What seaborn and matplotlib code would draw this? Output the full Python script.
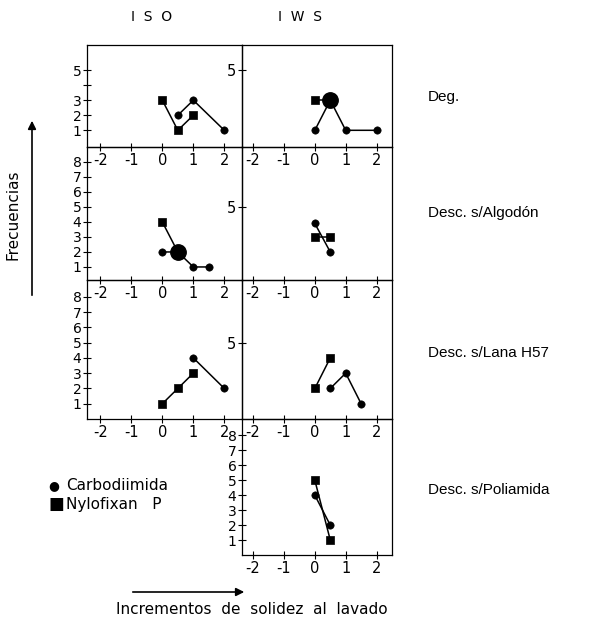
import seaborn as sns
import pandas as pd
import numpy as np
import matplotlib.pyplot as plt

sns.set_style("ticks")
plt.rcParams['font.family'] = ['DejaVu Sans']
plt.rcParams.update({"text.color": "black", "xtick.color": "black", "ytick.color": "black",
                     "axes.edgecolor": "black", "axes.labelcolor": "black"})

W, H = 590, 625

## data: (x = increment, y = frequency)
deg_iso_carb_x = [0.5, 1, 2]
deg_iso_carb_y = [2, 3, 1]
deg_iso_nylo_x = [0, 0.5, 1]
deg_iso_nylo_y = [3, 1, 2]
deg_iws_carb_x = [0, 0.5, 1, 2]
deg_iws_carb_y = [1, 3, 1, 1]
deg_iws_nylo_x = [0, 0.5]
deg_iws_nylo_y = [3, 3]

alg_iso_carb_x = [0, 0.5, 1, 1.5]
alg_iso_carb_y = [2, 2, 1, 1]
alg_iso_nylo_x = [0, 0.5]
alg_iso_nylo_y = [4, 2]
alg_iws_carb_x = [0, 0.5]
alg_iws_carb_y = [3.9, 2]
alg_iws_nylo_x = [0, 0.5]
alg_iws_nylo_y = [3, 3]

lana_iso_carb_x = [1, 2]
lana_iso_carb_y = [4, 2]
lana_iso_nylo_x = [0, 0.5, 1]
lana_iso_nylo_y = [1, 2, 3]
lana_iws_carb_x = [0.5, 1, 1.5]
lana_iws_carb_y = [2, 3, 1]
lana_iws_nylo_x = [0, 0.5]
lana_iws_nylo_y = [2, 4]

pol_iws_carb_x = [0, 0.5]
pol_iws_carb_y = [4, 2]
pol_iws_nylo_x = [0, 0.5]
pol_iws_nylo_y = [5, 1]

## points where both series coincide (drawn as a bigger dot)
deg_iws_both = ([0.5], [3])
alg_iso_both = ([0.5], [2])

x_ticks = [-2, -1, 0, 1, 2]
row_labels = ["Deg.", "Desc. s/Algodón", "Desc. s/Lana H57", "Desc. s/Poliamida"]
col_titles = ["I  S  O", "I  W  S"]
legend_labels = ["Carbodiimida", "Nylofixan   P"]

fig = plt.figure(figsize=(W / 100, H / 100), dpi=100)


def box(x0, y0, x1, y1):
    return fig.add_axes([x0 / W, 1 - y1 / H, (x1 - x0) / W, (y1 - y0) / H])


cols = {"iso": (87, 242, (-2.43, 2.57)), "iws": (242, 392, (-2.36, 2.5))}
rows = [(45, 147, (-0.11, 6.67)), (147, 280, (0.13, 9.0)),
        (280, 419, (0.0, 9.1)), (419, 555, (0.0, 9.1))]

panels = [
    (0, "iso", deg_iso_carb_x, deg_iso_carb_y, deg_iso_nylo_x, deg_iso_nylo_y, None),
    (0, "iws", deg_iws_carb_x, deg_iws_carb_y, deg_iws_nylo_x, deg_iws_nylo_y, deg_iws_both),
    (1, "iso", alg_iso_carb_x, alg_iso_carb_y, alg_iso_nylo_x, alg_iso_nylo_y, alg_iso_both),
    (1, "iws", alg_iws_carb_x, alg_iws_carb_y, alg_iws_nylo_x, alg_iws_nylo_y, None),
    (2, "iso", lana_iso_carb_x, lana_iso_carb_y, lana_iso_nylo_x, lana_iso_nylo_y, None),
    (2, "iws", lana_iws_carb_x, lana_iws_carb_y, lana_iws_nylo_x, lana_iws_nylo_y, None),
    (3, "iws", pol_iws_carb_x, pol_iws_carb_y, pol_iws_nylo_x, pol_iws_nylo_y, None),
]

for r, c, cx, cy, nx, ny, both in panels:
    x0, x1, xl = cols[c]
    y0, y1, yl = rows[r]
    ax = box(x0, y0, x1, y1)
    ax.set_facecolor("none")
    sns.lineplot(x=cx, y=cy, sort=False, estimator=None, color="black", lw=1.1, ax=ax)
    sns.lineplot(x=nx, y=ny, sort=False, estimator=None, color="black", lw=1.1, ax=ax)
    sns.scatterplot(x=cx, y=cy, marker="o", s=28, color="black", edgecolor="black", ax=ax)
    sns.scatterplot(x=nx, y=ny, marker="s", s=38, color="black", edgecolor="black", ax=ax)
    if both is not None:
        sns.scatterplot(x=both[0], y=both[1], marker="o", s=125, color="black", edgecolor="black", ax=ax)
    ax.set_xlim(*xl)
    ax.set_ylim(*yl)
    ax.set_xticks(x_ticks)
    ax.set_xticklabels([str(t) for t in x_ticks], fontsize=10.5)
    if c == "iso":
        if r == 0:
            ax.set_yticks([1, 2, 3, 4, 5])
            ax.set_yticklabels(["1", "2", "3", "", "5"], fontsize=10)
        else:
            ax.set_yticks(range(1, 9))
            ax.set_yticklabels([str(i) for i in range(1, 9)], fontsize=10)
    else:
        if r == 3:
            ax.set_yticks(range(1, 9))
            ax.set_yticklabels([str(i) for i in range(1, 9)], fontsize=10)
        else:
            ax.set_yticks([5])
            ax.set_yticklabels(["5"], fontsize=10.5)
    ax.tick_params(direction="inout", length=6, width=0.8, pad=1)
    for s in ax.spines.values():
        s.set_visible(True)
        s.set_linewidth(0.9)
    ax.set_xlabel("")
    ax.set_ylabel("")

# column titles and row labels
fig.text(152 / W, 1 - 17 / H, col_titles[0], ha="center", va="center", fontsize=10)
fig.text(300 / W, 1 - 17 / H, col_titles[1], ha="center", va="center", fontsize=10)
for lab, yy in zip(row_labels, [97, 213, 353, 490]):
    fig.text(428 / W, 1 - yy / H, lab, ha="left", va="center", fontsize=11,
             family=["Liberation Sans"])

# legend
fig.text(48 / W, 1 - 486 / H, "\u25cf", ha="left", va="center", fontsize=9)
fig.text(48 / W, 1 - 504 / H, "\u25a0", ha="left", va="center", fontsize=12)
fig.text(66 / W, 1 - 486 / H, legend_labels[0], ha="left", va="center", fontsize=11)
fig.text(66 / W, 1 - 504 / H, legend_labels[1], ha="left", va="center", fontsize=11)

# axis captions with arrows
fig.text(13 / W, 1 - 215 / H, "Frecuencias", rotation=90, ha="center", va="center", fontsize=11)
fig.add_artist(plt.Annotation("", xy=(32 / W, 1 - 118 / H), xytext=(32 / W, 1 - 298 / H),
                              xycoords="figure fraction",
                              arrowprops=dict(arrowstyle="-|>", color="black", lw=1.2,
                                              mutation_scale=12)))
fig.add_artist(plt.Annotation("", xy=(247 / W, 1 - 592 / H), xytext=(130 / W, 1 - 592 / H),
                              xycoords="figure fraction",
                              arrowprops=dict(arrowstyle="-|>", color="black", lw=1.2,
                                              mutation_scale=12)))
fig.text(252 / W, 1 - 610 / H, "Incrementos  de  solidez  al  lavado", ha="center", va="center",
         fontsize=11)

fig.savefig("out.png", dpi=100)
